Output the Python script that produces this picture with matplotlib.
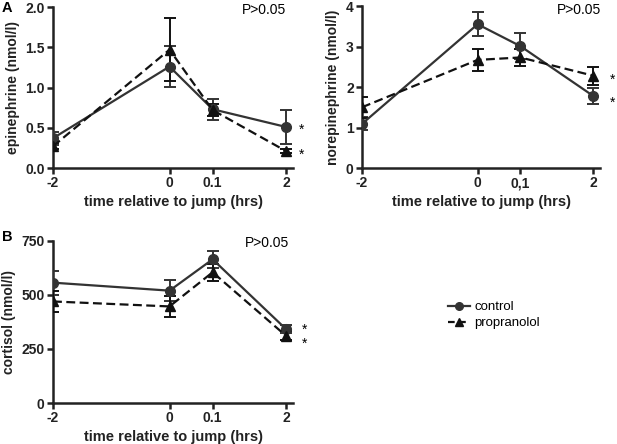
import matplotlib
matplotlib.use("Agg")
import matplotlib.pyplot as plt
from matplotlib.lines import Line2D

plt.rcParams['font.family'] = ['Liberation Sans', 'DejaVu Sans']

# tiempos (etiquetas) y posición en el eje (escala no lineal de la figura original)
tiempos = ["-2", "0", "0.1", "2"]
tiempos_ne = ["-2", "0", "0,1", "2"]
x_pos = [-2, 0, 0.74, 2]

# epinefrina (nmol/l)
epi_control = [0.37, 1.26, 0.73, 0.51]
epi_control_err = [0.08, 0.25, 0.13, 0.21]
epi_prop = [0.27, 1.47, 0.72, 0.21]
epi_prop_err = [0.04, 0.39, 0.08, 0.02]

# norepinefrina (nmol/l)
ne_control = [1.09, 3.55, 3.01, 1.78]
ne_control_err = [0.16, 0.30, 0.32, 0.20]
ne_prop = [1.50, 2.67, 2.73, 2.28]
ne_prop_err = [0.26, 0.28, 0.22, 0.22]

# cortisol (nmol/l)
cort_control = [557, 520, 665, 342]
cort_control_err = [55, 50, 38, 18]
cort_prop = [470, 447, 605, 311]
cort_prop_err = [48, 50, 38, 20]

gris = "#333333"

fig = plt.figure(figsize=(6.17, 4.44), dpi=100)
ax_a = fig.add_axes([0.0859, 0.6216, 0.389, 0.3626])
ax_n = fig.add_axes([0.5867, 0.6216, 0.386, 0.3648])
ax_b = fig.add_axes([0.0859, 0.0923, 0.389, 0.365])


def dibujar(ax, control, c_err, prop, p_err, etiquetas):
    ax.errorbar(x_pos, control, yerr=c_err, color=gris, marker='o',
                markersize=7, linewidth=1.6, capsize=4, capthick=1.4,
                elinewidth=1.4, zorder=3)
    lp = ax.errorbar(x_pos, prop, yerr=p_err, color="#111111", marker='^',
                     markersize=6.5, linewidth=1.6, linestyle=(0, (4, 2)),
                     capsize=4, capthick=1.4, elinewidth=1.4, zorder=3)
    lp[-1][0].set_linestyle('-')
    ax.set_xticks(x_pos)
    ax.set_xticklabels(etiquetas)
    ax.set_xlim(-2, 2.12)
    for s in ["top", "right"]:
        ax.spines[s].set_visible(False)
    for s in ["left", "bottom"]:
        ax.spines[s].set_linewidth(1.8)
        ax.spines[s].set_color("#222222")
    ax.tick_params(width=1.8, length=4, direction='out', labelsize=10,
                   colors="#222222", pad=2)
    for t in ax.get_xticklabels() + ax.get_yticklabels():
        t.set_fontweight('bold')
    ax.set_xlabel("time relative to jump (hrs)", fontsize=10.5,
                  fontweight='bold', color="#222222", labelpad=3)


dibujar(ax_a, epi_control, epi_control_err, epi_prop, epi_prop_err, tiempos)
ax_a.set_ylim(0, 2.0)
ax_a.set_yticks([0, 0.5, 1.0, 1.5, 2.0])
ax_a.set_yticklabels(["0.0", "0.5", "1.0", "1.5", "2.0"], fontweight='bold')
ax_a.set_ylabel("epinephrine (nmol/l)", fontsize=10, fontweight='bold', color="#222222")
ax_a.text(0.88, 0.98, "P>0.05", transform=ax_a.transAxes, ha='center', va='center', fontsize=10)
ax_a.text(2.26, 0.47, "*", fontsize=10, ha='center', va='center', clip_on=False)
ax_a.text(2.26, 0.17, "*", fontsize=10, ha='center', va='center', clip_on=False)

dibujar(ax_n, ne_control, ne_control_err, ne_prop, ne_prop_err, tiempos_ne)
ax_n.set_ylim(0, 4)
ax_n.set_yticks([0, 1, 2, 3, 4])
ax_n.set_yticklabels(["0", "1", "2", "3", "4"], fontweight='bold')
ax_n.set_ylabel("norepinephrine (nmol/l)", fontsize=10, fontweight='bold', color="#222222")
ax_n.text(0.91, 0.975, "P>0.05", transform=ax_n.transAxes, ha='center', va='center', fontsize=10)
ax_n.text(2.33, 2.18, "*", fontsize=10, ha='center', va='center', clip_on=False)
ax_n.text(2.33, 1.60, "*", fontsize=10, ha='center', va='center', clip_on=False)

dibujar(ax_b, cort_control, cort_control_err, cort_prop, cort_prop_err, tiempos)
ax_b.set_ylim(0, 750)
ax_b.set_yticks([0, 250, 500, 750])
ax_b.set_yticklabels(["0", "250", "500", "750"], fontweight='bold')
ax_b.set_ylabel("cortisol (nmol/l)", fontsize=10, fontweight='bold', color="#222222")
ax_b.text(0.89, 0.99, "P>0.05", transform=ax_b.transAxes, ha='center', va='center', fontsize=10)
ax_b.text(2.31, 338, "*", fontsize=10, ha='center', va='center', clip_on=False)
ax_b.text(2.31, 276, "*", fontsize=10, ha='center', va='center', clip_on=False)

fig.text(0.002, 0.982, "A", fontsize=10.5, fontweight='bold', va='center')
fig.text(0.004, 0.466, "B", fontsize=10.5, fontweight='bold', va='center')

h_control = Line2D([], [], color=gris, marker='o', markersize=5.5, linewidth=1.6)
h_prop = Line2D([], [], color="#111111", marker='^', markersize=5.5,
                linewidth=1.6, linestyle=(0, (3, 2)))
fig.legend([h_control, h_prop], ["control", "propranolol"], loc='upper left',
           bbox_to_anchor=(0.715, 0.337), frameon=False, fontsize=9.5,
           handlelength=1.7, handletextpad=0.3, labelspacing=0.3,
           borderpad=0)

fig.savefig("out.png", dpi=100)
